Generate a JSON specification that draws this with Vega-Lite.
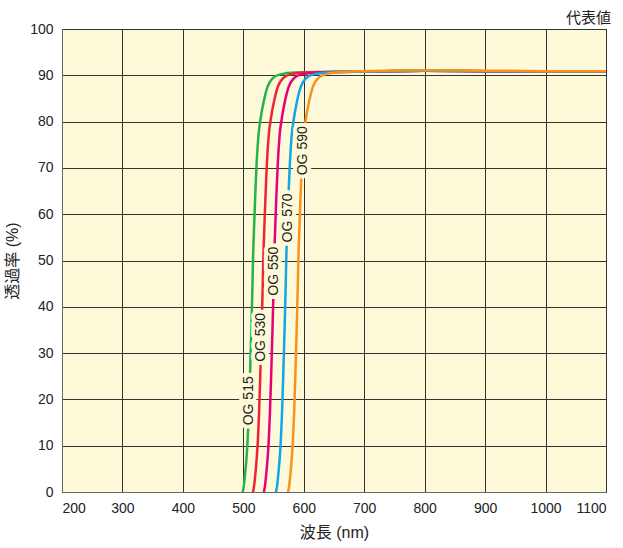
{
  "$schema": "https://vega.github.io/schema/vega-lite/v6.json",
  "width": 544,
  "height": 463,
  "autosize": {"type": "none"},
  "padding": {"left": 62, "top": 29, "right": 17, "bottom": 56},
  "background": "#ffffff",
  "title": {"text": "代表値", "anchor": "end", "font": "Noto Sans CJK JP", "fontSize": 15, "fontWeight": "normal", "color": "#222222", "offset": -4},
  "config": {
    "view": {"fill": "#fef9d8", "stroke": "#555555", "strokeWidth": 1},
    "axis": {"labelFont": "Liberation Sans", "labelFontSize": 14, "labelColor": "#222222", "titleFont": "Liberation Sans, Noto Sans CJK JP", "titleFontSize": 16, "titleFontWeight": "normal", "titleColor": "#222222", "gridColor": "#333333", "gridOpacity": 1, "gridWidth": 1, "ticks": false, "domainColor": "#666666"}
  },
  "datasets": {
    "curves": [
      {"filter": "OG 515", "nm": 499, "T": 0}, {"filter": "OG 515", "nm": 501, "T": 1.5}, {"filter": "OG 515", "nm": 503, "T": 4}, {"filter": "OG 515", "nm": 505, "T": 7}, {"filter": "OG 515", "nm": 507, "T": 11}, {"filter": "OG 515", "nm": 509, "T": 17}, {"filter": "OG 515", "nm": 511, "T": 25}, {"filter": "OG 515", "nm": 513, "T": 34}, {"filter": "OG 515", "nm": 515, "T": 44}, {"filter": "OG 515", "nm": 516, "T": 50}, {"filter": "OG 515", "nm": 518, "T": 58}, {"filter": "OG 515", "nm": 520, "T": 65}, {"filter": "OG 515", "nm": 522, "T": 71}, {"filter": "OG 515", "nm": 525, "T": 77}, {"filter": "OG 515", "nm": 529, "T": 81}, {"filter": "OG 515", "nm": 534, "T": 84.5}, {"filter": "OG 515", "nm": 540, "T": 87.5}, {"filter": "OG 515", "nm": 548, "T": 89.3}, {"filter": "OG 515", "nm": 561, "T": 90.2}, {"filter": "OG 515", "nm": 586, "T": 90.6}, {"filter": "OG 515", "nm": 700, "T": 90.8}, {"filter": "OG 515", "nm": 800, "T": 91}, {"filter": "OG 515", "nm": 900, "T": 90.9}, {"filter": "OG 515", "nm": 1000, "T": 90.85}, {"filter": "OG 515", "nm": 1100, "T": 90.8},
      {"filter": "OG 530", "nm": 516, "T": 0}, {"filter": "OG 530", "nm": 518, "T": 1.5}, {"filter": "OG 530", "nm": 520, "T": 4}, {"filter": "OG 530", "nm": 522, "T": 7}, {"filter": "OG 530", "nm": 524, "T": 11}, {"filter": "OG 530", "nm": 526, "T": 17}, {"filter": "OG 530", "nm": 528, "T": 25}, {"filter": "OG 530", "nm": 530, "T": 34}, {"filter": "OG 530", "nm": 532, "T": 44}, {"filter": "OG 530", "nm": 533, "T": 50}, {"filter": "OG 530", "nm": 535, "T": 58}, {"filter": "OG 530", "nm": 537, "T": 65}, {"filter": "OG 530", "nm": 539, "T": 71}, {"filter": "OG 530", "nm": 542, "T": 77}, {"filter": "OG 530", "nm": 546, "T": 81}, {"filter": "OG 530", "nm": 551, "T": 84.5}, {"filter": "OG 530", "nm": 557, "T": 87.5}, {"filter": "OG 530", "nm": 565, "T": 89.3}, {"filter": "OG 530", "nm": 578, "T": 90.2}, {"filter": "OG 530", "nm": 603, "T": 90.6}, {"filter": "OG 530", "nm": 700, "T": 90.8}, {"filter": "OG 530", "nm": 800, "T": 91}, {"filter": "OG 530", "nm": 900, "T": 90.9}, {"filter": "OG 530", "nm": 1000, "T": 90.85}, {"filter": "OG 530", "nm": 1100, "T": 90.8},
      {"filter": "OG 550", "nm": 534, "T": 0}, {"filter": "OG 550", "nm": 536, "T": 1.5}, {"filter": "OG 550", "nm": 538, "T": 4}, {"filter": "OG 550", "nm": 540, "T": 7}, {"filter": "OG 550", "nm": 542, "T": 11}, {"filter": "OG 550", "nm": 544, "T": 17}, {"filter": "OG 550", "nm": 546, "T": 25}, {"filter": "OG 550", "nm": 548, "T": 34}, {"filter": "OG 550", "nm": 550, "T": 44}, {"filter": "OG 550", "nm": 551, "T": 50}, {"filter": "OG 550", "nm": 553, "T": 58}, {"filter": "OG 550", "nm": 555, "T": 65}, {"filter": "OG 550", "nm": 557, "T": 71}, {"filter": "OG 550", "nm": 560, "T": 77}, {"filter": "OG 550", "nm": 564, "T": 81}, {"filter": "OG 550", "nm": 569, "T": 84.5}, {"filter": "OG 550", "nm": 575, "T": 87.5}, {"filter": "OG 550", "nm": 583, "T": 89.3}, {"filter": "OG 550", "nm": 596, "T": 90.2}, {"filter": "OG 550", "nm": 621, "T": 90.6}, {"filter": "OG 550", "nm": 700, "T": 90.8}, {"filter": "OG 550", "nm": 800, "T": 91}, {"filter": "OG 550", "nm": 900, "T": 90.9}, {"filter": "OG 550", "nm": 1000, "T": 90.85}, {"filter": "OG 550", "nm": 1100, "T": 90.8},
      {"filter": "OG 570", "nm": 554, "T": 0}, {"filter": "OG 570", "nm": 556, "T": 1.5}, {"filter": "OG 570", "nm": 558, "T": 4}, {"filter": "OG 570", "nm": 560, "T": 7}, {"filter": "OG 570", "nm": 562, "T": 11}, {"filter": "OG 570", "nm": 564, "T": 17}, {"filter": "OG 570", "nm": 566, "T": 25}, {"filter": "OG 570", "nm": 568, "T": 34}, {"filter": "OG 570", "nm": 570, "T": 44}, {"filter": "OG 570", "nm": 571, "T": 50}, {"filter": "OG 570", "nm": 573, "T": 58}, {"filter": "OG 570", "nm": 575, "T": 65}, {"filter": "OG 570", "nm": 577, "T": 71}, {"filter": "OG 570", "nm": 580, "T": 77}, {"filter": "OG 570", "nm": 584, "T": 81}, {"filter": "OG 570", "nm": 589, "T": 84.5}, {"filter": "OG 570", "nm": 595, "T": 87.5}, {"filter": "OG 570", "nm": 603, "T": 89.3}, {"filter": "OG 570", "nm": 616, "T": 90.2}, {"filter": "OG 570", "nm": 641, "T": 90.6}, {"filter": "OG 570", "nm": 700, "T": 90.8}, {"filter": "OG 570", "nm": 800, "T": 91}, {"filter": "OG 570", "nm": 900, "T": 90.9}, {"filter": "OG 570", "nm": 1000, "T": 90.85}, {"filter": "OG 570", "nm": 1100, "T": 90.8},
      {"filter": "OG 590", "nm": 574, "T": 0}, {"filter": "OG 590", "nm": 576, "T": 1.5}, {"filter": "OG 590", "nm": 578, "T": 4}, {"filter": "OG 590", "nm": 580, "T": 7}, {"filter": "OG 590", "nm": 582, "T": 11}, {"filter": "OG 590", "nm": 584, "T": 17}, {"filter": "OG 590", "nm": 586, "T": 25}, {"filter": "OG 590", "nm": 588, "T": 34}, {"filter": "OG 590", "nm": 590, "T": 44}, {"filter": "OG 590", "nm": 591, "T": 50}, {"filter": "OG 590", "nm": 593, "T": 58}, {"filter": "OG 590", "nm": 595, "T": 65}, {"filter": "OG 590", "nm": 597, "T": 71}, {"filter": "OG 590", "nm": 600, "T": 77}, {"filter": "OG 590", "nm": 604, "T": 81}, {"filter": "OG 590", "nm": 609, "T": 84.5}, {"filter": "OG 590", "nm": 615, "T": 87.5}, {"filter": "OG 590", "nm": 623, "T": 89.3}, {"filter": "OG 590", "nm": 636, "T": 90.2}, {"filter": "OG 590", "nm": 661, "T": 90.7}, {"filter": "OG 590", "nm": 700, "T": 90.9}, {"filter": "OG 590", "nm": 800, "T": 91.1}, {"filter": "OG 590", "nm": 900, "T": 91}, {"filter": "OG 590", "nm": 1000, "T": 90.9}, {"filter": "OG 590", "nm": 1100, "T": 90.85}
    ],
    "labels": [
      {"filter": "OG 515", "nm": 509, "T": 19.7},
      {"filter": "OG 530", "nm": 530, "T": 33.4},
      {"filter": "OG 550", "nm": 550.5, "T": 47.7},
      {"filter": "OG 570", "nm": 573.3, "T": 59.2},
      {"filter": "OG 590", "nm": 598.3, "T": 73.7}
    ]
  },
  "encoding": {
    "x": {"field": "nm", "type": "quantitative", "scale": {"domain": [200, 1100], "nice": false, "zero": false},
      "axis": {"values": [200, 300, 400, 500, 600, 700, 800, 900, 1000, 1100], "format": "d", "grid": true, "labelPadding": 9, "title": "波長 (nm)", "titlePadding": 9}},
    "y": {"field": "T", "type": "quantitative", "scale": {"domain": [0, 100], "nice": false},
      "axis": {"values": [0, 10, 20, 30, 40, 50, 60, 70, 80, 90, 100], "grid": true, "labelPadding": 9, "title": "透過率 (%)", "titlePadding": 9}}
  },
  "layer": [
    {
      "data": {"name": "curves"},
      "mark": {"type": "line", "strokeWidth": 2.5, "interpolate": "monotone"},
      "encoding": {
        "color": {"field": "filter", "type": "nominal", "legend": null,
          "scale": {"domain": ["OG 515", "OG 530", "OG 550", "OG 570", "OG 590"], "range": ["#27b24a", "#ee2436", "#e6007e", "#10a6e8", "#f7921e"]}}
      }
    },
    {
      "data": {"name": "labels"},
      "mark": {"type": "text", "angle": 270, "align": "center", "baseline": "middle", "font": "Liberation Sans", "fontSize": 14, "fill": "#fef9d8", "stroke": "#fef9d8", "strokeWidth": 8, "strokeJoin": "round"},
      "encoding": {"text": {"field": "filter"}}
    },
    {
      "data": {"name": "labels"},
      "mark": {"type": "text", "angle": 270, "align": "center", "baseline": "middle", "font": "Liberation Sans", "fontSize": 14, "fill": "#222222"},
      "encoding": {"text": {"field": "filter"}}
    }
  ]
}
